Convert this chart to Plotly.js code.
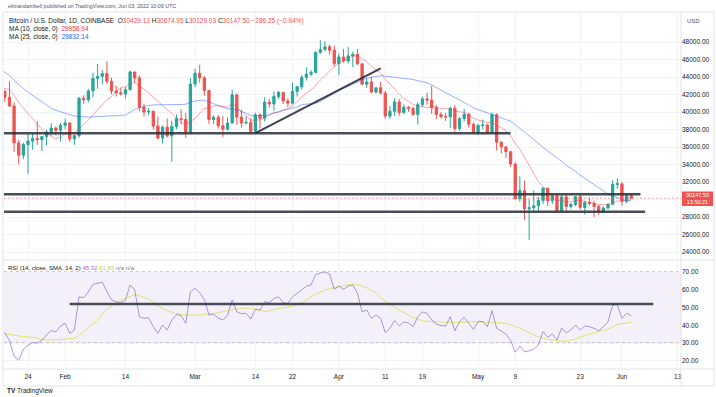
<!DOCTYPE html>
<html><head><meta charset="utf-8">
<script src="https://cdn.plot.ly/plotly-3.0.1.min.js"></script>
<style>html,body{margin:0;padding:0;background:#fff;overflow:hidden}#chart{width:716px;height:397px}</style>
</head><body><div id="chart"></div>
<script>
// ---------------- data ----------------
const dates = [
"2022-01-18","2022-01-19","2022-01-20","2022-01-21","2022-01-22","2022-01-23","2022-01-24","2022-01-25","2022-01-26","2022-01-27","2022-01-28","2022-01-29","2022-01-30","2022-01-31",
"2022-02-01","2022-02-02","2022-02-03","2022-02-04","2022-02-05","2022-02-06","2022-02-07","2022-02-08","2022-02-09","2022-02-10","2022-02-11","2022-02-12","2022-02-13","2022-02-14","2022-02-15","2022-02-16","2022-02-17","2022-02-18","2022-02-19","2022-02-20","2022-02-21","2022-02-22","2022-02-23","2022-02-24","2022-02-25","2022-02-26","2022-02-27","2022-02-28",
"2022-03-01","2022-03-02","2022-03-03","2022-03-04","2022-03-05","2022-03-06","2022-03-07","2022-03-08","2022-03-09","2022-03-10","2022-03-11","2022-03-12","2022-03-13","2022-03-14","2022-03-15","2022-03-16","2022-03-17","2022-03-18","2022-03-19","2022-03-20","2022-03-21","2022-03-22","2022-03-23","2022-03-24","2022-03-25","2022-03-26","2022-03-27","2022-03-28","2022-03-29","2022-03-30","2022-03-31",
"2022-04-01","2022-04-02","2022-04-03","2022-04-04","2022-04-05","2022-04-06","2022-04-07","2022-04-08","2022-04-09","2022-04-10","2022-04-11","2022-04-12","2022-04-13","2022-04-14","2022-04-15","2022-04-16","2022-04-17","2022-04-18","2022-04-19","2022-04-20","2022-04-21","2022-04-22","2022-04-23","2022-04-24","2022-04-25","2022-04-26","2022-04-27","2022-04-28","2022-04-29","2022-04-30",
"2022-05-01","2022-05-02","2022-05-03","2022-05-04","2022-05-05","2022-05-06","2022-05-07","2022-05-08","2022-05-09","2022-05-10","2022-05-11","2022-05-12","2022-05-13","2022-05-14","2022-05-15","2022-05-16","2022-05-17","2022-05-18","2022-05-19","2022-05-20","2022-05-21","2022-05-22","2022-05-23","2022-05-24","2022-05-25","2022-05-26","2022-05-27","2022-05-28","2022-05-29","2022-05-30","2022-05-31",
"2022-06-01","2022-06-02","2022-06-03"];

const open = [42250,42375,41680,40690,36470,35060,36280,36680,36960,36830,37190,37720,38170,37920,
38480,38740,36940,37300,41570,41390,42410,43840,44070,44390,43520,42400,42200,42060,42550,44580,43900,40540,40000,40100,38390,37030,38270,37270,38350,39240,39140,37710,
43190,44420,43910,42460,39140,39400,38420,38040,38740,41960,39430,38730,38810,37790,39670,39290,41120,40920,41770,42240,41260,41010,42360,42890,43960,44330,44520,46820,47130,47450,47060,
45530,46290,45830,46410,46600,45510,43180,43440,42280,42770,42160,39530,40090,41150,39940,40550,40400,39720,40830,41500,41360,40480,39710,39470,39450,40430,38110,39240,39740,38600,
37630,38470,38520,37720,39690,36550,36010,35470,34060,30090,31010,28940,29050,29280,29880,31300,29860,30420,28720,30300,29200,29430,30320,29100,29650,29540,29200,28630,29030,29470,31720,
31790,29800,30429.13];
const high = [42600,42480,43500,41100,36840,36500,37550,37540,38920,37230,38000,38720,38360,38750,
39230,38840,37380,41730,41920,42640,44500,45490,44800,45820,43920,43000,42750,42860,44770,44580,44200,40970,40480,40140,39470,38450,39260,38990,39730,40310,39880,43890,
44950,45400,44110,42490,39610,39650,39530,39360,42570,42040,40230,39480,39300,39920,39870,41700,41460,42320,42400,42300,41550,43360,42900,44210,45090,44800,46940,48190,48100,47700,47590,
46710,47210,47440,46890,47190,45510,43900,43970,42800,43420,42420,40700,41560,41500,40870,40700,40600,41130,41760,42200,42980,40800,39980,39900,40600,40780,39440,40350,39900,38780,
38640,39120,38630,39960,39850,36650,36120,35480,34240,32650,32160,30030,31040,30300,31400,31310,30750,30660,30500,30700,29620,30420,30660,29830,30200,29850,29380,29220,29560,32200,32400,
31960,30680,30674.95];
const low = [41250,41150,40550,35440,34010,34620,32950,35700,36240,35510,36180,37320,37360,36640,
38010,36600,36250,37050,40930,41100,41680,42660,43150,43200,42010,41780,41880,41580,42440,43330,40080,39470,39640,38000,36820,36390,37090,34320,38050,38620,37050,37480,
42850,43340,41860,38600,38590,38100,37150,37870,38660,38550,38220,38660,37590,37580,38120,38920,40500,40140,41520,40920,40540,40890,41750,42580,43600,44100,44440,46650,46970,46550,45210,
44220,45650,45530,45120,45360,43120,42740,42130,42130,42000,39220,39250,39560,39570,39770,40020,39550,38550,40580,40850,39780,39180,39280,39000,38200,37720,37880,38890,38200,37600,
37400,38050,37500,37680,35600,35260,34770,33730,30050,29730,27700,25400,28720,28650,29500,29230,29480,28650,28700,28740,28950,29240,28860,28290,29330,28030,28240,28450,28880,29330,31220,
29300,29580,30129.03];
const close = [42375,41680,40690,36470,35060,36280,36680,36960,36830,37190,37720,38170,37920,38480,
38740,36940,37300,41570,41390,42410,43840,44070,44390,43520,42400,42200,42060,42550,44580,43900,40540,40000,40100,38390,37030,38270,37270,38350,39240,39140,37710,43190,
44420,43910,42460,39140,39400,38420,38040,38740,41960,39430,38730,38810,37790,39670,39290,41120,40920,41770,42240,41260,41010,42360,42890,43960,44330,44520,46820,47130,47450,47060,45530,
46290,45830,46410,46600,45510,43180,43440,42280,42770,42160,39530,40090,41150,39940,40550,40400,39720,40830,41500,41360,40480,39710,39470,39450,40430,38110,39240,39740,38600,37630,
38470,38520,37720,39690,36550,36010,35470,34060,30090,31010,28940,29050,29280,29880,31300,29860,30420,28720,30300,29200,29430,30320,29100,29650,29540,29200,28630,29030,29470,31720,31790,
29800,30433.75,30147.50];
const ma10 = [42690,42670,42560,41930,41050,40420,39780,39160,38530,38020,37560,37210,36930,37130,
37500,37560,37630,38090,38540,39060,39680,40270,40910,41420,41780,42310,42790,42880,43200,43350,43020,42610,42190,41670,41140,40740,40260,39840,39310,38830,38550,38870,
39300,39850,40400,40480,40700,40700,40580,40540,40970,40590,40020,39510,39050,39100,39090,39360,39650,39950,39980,40160,40390,40740,41250,41680,42190,42530,43120,43650,44170,44750,45210,
45600,45890,46140,46360,46460,46100,45730,45210,44780,44450,43770,43200,42670,42010,41510,41230,40860,40710,40590,40510,40600,40560,40400,40350,40340,40110,40060,39950,39660,39290,
39090,38970,38790,38820,38430,38220,37840,37270,36420,35760,34810,33860,33020,32030,31510,30890,30390,29860,29880,29700,29740,29870,29850,29830,29650,29590,29410,29440,29360,29610,29850,
29790,29930,29958.94];
const ma25 = [44940,44570,44180,43610,43110,42700,42280,41910,41480,41070,40720,40420,40200,40020,
39900,39710,39530,39520,39460,39400,39450,39490,39540,39560,39560,39560,39570,39650,39970,40320,40490,40630,40750,40810,40810,40830,40790,40810,40840,40860,40890,41120,
41240,41340,41340,41150,40970,40730,40510,40360,40350,40250,40090,39860,39620,39580,39560,39600,39700,39890,40050,40210,40310,40440,40590,40840,40880,40890,41000,41190,41520,41830,42110,
42440,42730,42900,43190,43460,43640,43860,43970,44110,44150,44090,44030,43980,43930,43910,43830,43710,43580,43470,43340,43090,42790,42470,42170,41960,41640,41370,41110,40790,40470,
40280,40090,39900,39780,39560,39410,39230,38950,38550,38170,37710,37290,36820,36360,35960,35530,35160,34730,34360,33910,33570,33210,32780,32430,32100,31730,31340,30990,30580,30390,30220,
29990,29850,29832.14];
const rsi = [38.0,35.5,31.5,22.5,20.3,26.5,28.8,30.2,30.0,31.5,34.5,37.0,36.3,39.5,
41.2,35.5,37.3,56.0,55.5,58.8,63.0,63.8,64.3,59.0,54.2,53.3,52.8,54.0,62.7,59.9,44.8,43.9,44.2,39.2,35.5,40.1,37.3,43.0,46.0,45.5,41.1,58.9,
60.8,58.3,54.5,45.8,46.3,44.0,43.0,45.5,54.2,47.6,46.5,46.7,43.5,49.0,48.5,53.3,52.8,55.0,56.1,52.7,52.2,56.0,58.0,60.5,62.0,62.7,68.5,69.5,70.0,68.8,60.3,
62.1,60.3,62.1,62.7,58.0,47.6,48.6,43.9,45.8,43.9,35.8,38.3,42.6,39.6,41.8,41.3,39.2,44.8,47.5,46.7,43.0,40.7,39.8,39.6,44.8,36.9,42.0,44.5,41.1,37.7,
42.0,42.1,39.2,48.2,38.3,36.9,35.1,31.5,24.8,28.3,25.0,25.6,26.5,29.0,36.4,33.2,35.1,31.7,38.3,35.8,37.3,40.1,37.3,39.6,39.2,38.3,36.9,39.2,42.0,51.4,51.6,
43.9,46.7,45.32];
const rsiMaDates = ["2022-01-19","2022-01-21","2022-01-23","2022-01-25","2022-01-27","2022-01-29","2022-02-01","2022-02-03","2022-02-04","2022-02-06","2022-02-08","2022-02-10","2022-02-13","2022-02-15","2022-02-16","2022-02-19","2022-02-21","2022-02-24","2022-02-27","2022-03-02","2022-03-05","2022-03-08","2022-03-11","2022-03-14","2022-03-16","2022-03-19","2022-03-22","2022-03-24","2022-03-26","2022-03-29","2022-04-01","2022-04-04","2022-04-06","2022-04-09","2022-04-11","2022-04-14","2022-04-17","2022-04-19","2022-04-23","2022-04-27","2022-05-01","2022-05-04","2022-05-07","2022-05-10","2022-05-13","2022-05-16","2022-05-19","2022-05-21","2022-05-24","2022-05-27","2022-05-29","2022-05-31","2022-06-03"];
const rsiMa = [35.3,34.4,33.6,33.2,32.1,31.7,32.2,32.8,34.3,38.6,43.0,49.0,54.0,56.1,57.3,54.5,51.0,47.1,45.8,45.8,46.7,48.2,49.6,49.2,47.8,49.4,50.8,52.5,56.0,59.9,61.7,63.2,62.2,58.2,53.5,48.5,44.5,42.6,41.8,41.6,42.0,41.4,41.1,38.3,34.5,32.1,31.1,31.6,34.2,36.6,37.8,40.3,41.69];

// price-axis labels shown (30000 is hidden behind the last-price tag, as in the reference)
const priceTicks = [24000,26000,28000,32000,34000,36000,38000,40000,42000,44000,46000,48000];
const hiddenGridPrice = 30000;
const rsiTicks = [20,30,40,50,60,70];
const dateTickVals = ["2022-01-24","2022-02-01","2022-02-14","2022-03-01","2022-03-14","2022-03-22","2022-04-01","2022-04-11","2022-04-19","2022-05-01","2022-05-09","2022-05-23","2022-06-01","2022-06-13"];
const dateTickText = ["24","Feb","14","Mar","14","22","Apr","11","19","May","9","23","Jun","13"];
// hand-drawn support / trend lines (price levels)
const supportLevels = [37580, 30600, 28610];
const supportEnds = ["2022-05-08","2022-06-05","2022-06-06"];
const trendStart = ["2022-03-14", 37580];
const trendEnd = ["2022-04-10", 44990];
const rsiLevel = 52; const rsiLevelSpan = ["2022-02-02","2022-06-07 18:00"];
const lastPrice = 30147.50;

// ---------------- geometry ----------------
const L = 4, R = 681, T = 12, B = 369;
const px = v => (v - L) / (R - L);
const py = v => (B - v) / (B - T);
const xStart = "2022-01-18 19:52", xEnd = "2022-06-13 17:30";
const FONT = "Liberation Sans, Arial, sans-serif";
const TXT = "#131722";
const GRID = "#f0f3fa";
const BORDER = "#e0e3eb";
const UP = "#26a69a", DOWN = "#ef5350";

const traces = [
  {type:"candlestick", x:dates, open:open, high:high, low:low, close:close, xaxis:"x", yaxis:"y",
   increasing:{line:{color:UP,width:1}, fillcolor:UP}, decreasing:{line:{color:DOWN,width:1}, fillcolor:DOWN},
   whiskerwidth:0, hoverinfo:"skip", showlegend:false},
  {type:"scatter", mode:"lines", x:dates, y:ma10, xaxis:"x", yaxis:"y", line:{color:"rgba(242,54,69,0.45)", width:1}, hoverinfo:"skip", showlegend:false},
  {type:"scatter", mode:"lines", x:dates, y:ma25, xaxis:"x", yaxis:"y", line:{color:"rgba(41,98,255,0.5)", width:1}, hoverinfo:"skip", showlegend:false},
  {type:"scatter", mode:"lines", x:rsiMaDates, y:rsiMa, xaxis:"x", yaxis:"y2", line:{color:"rgba(215,222,70,0.75)", width:1, shape:"spline", smoothing:0.6}, hoverinfo:"skip", showlegend:false},
  {type:"scatter", mode:"lines", x:dates, y:rsi, xaxis:"x", yaxis:"y2", line:{color:"rgba(126,87,194,0.6)", width:1}, hoverinfo:"skip", showlegend:false}
];

const shapes = [];
shapes.push({type:"line", xref:"paper", yref:"y", x0:0, x1:1, y0:hiddenGridPrice, y1:hiddenGridPrice, line:{color:GRID, width:1}, layer:"below"});
shapes.push({type:"rect", xref:"paper", yref:"y2", x0:0, x1:1, y0:30, y1:70, fillcolor:"rgba(126,87,194,0.09)", line:{width:0}, layer:"below"});
[[70,"#9598a1"],[50,"#c3c5cc"],[30,"#9598a1"]].forEach(([v,c]) => shapes.push({type:"line", xref:"paper", yref:"y2", x0:0, x1:1, y0:v, y1:v, line:{color:c, width:1, dash:"3px,3px"}, layer:"below"}));
shapes.push({type:"line", xref:"paper", yref:"y", x0:0, x1:1, y0:lastPrice, y1:lastPrice, line:{color:"rgba(239,83,80,0.55)", width:1, dash:"2px,2px"}});
supportLevels.forEach((v,i) => shapes.push({type:"line", xref:"x", yref:"y", x0:xStart, x1:supportEnds[i], y0:v, y1:v, line:{color:"rgba(42,46,57,0.85)", width:2.5}}));
shapes.push({type:"line", xref:"x", yref:"y", x0:trendStart[0], y0:trendStart[1], x1:trendEnd[0], y1:trendEnd[1], line:{color:"rgba(42,46,57,0.9)", width:2}});
shapes.push({type:"line", xref:"x", yref:"y2", x0:rsiLevelSpan[0], x1:rsiLevelSpan[1], y0:rsiLevel, y1:rsiLevel, line:{color:"rgba(42,46,57,0.85)", width:2.5}});
shapes.push({type:"rect", xref:"paper", yref:"paper", x0:px(3), x1:px(714), y0:py(386), y1:py(T), line:{color:BORDER, width:1}, fillcolor:"rgba(0,0,0,0)"});
shapes.push({type:"line", xref:"paper", yref:"paper", x0:px(R), x1:px(R), y0:py(386), y1:py(T), line:{color:BORDER, width:1}});
shapes.push({type:"line", xref:"paper", yref:"paper", x0:px(3), x1:px(714), y0:py(260), y1:py(260), line:{color:BORDER, width:1}});
shapes.push({type:"line", xref:"paper", yref:"paper", x0:px(3), x1:px(714), y0:py(B), y1:py(B), line:{color:BORDER, width:1}});
shapes.push({type:"rect", xref:"paper", yref:"paper", x0:px(R+1), x1:px(713), y0:py(206), y1:py(191.5), fillcolor:DOWN, line:{width:0}});

const ann = (x,y,text,opts={}) => Object.assign({xref:"paper", yref:"paper", x:px(x), y:py(y), text:text, showarrow:false, xanchor:"left", yanchor:"middle", font:{family:FONT, size:6.5, color:TXT}}, opts);
const annotations = [
  ann(6, 5.5, "elimandambell published on TradingView.com, Jun 03, 2022 10:09 UTC", {font:{family:FONT, size:5.3, color:"#50535e"}}),
  ann(7, 20.5, "Bitcoin / U.S. Dollar, 1D, COINBASE &nbsp;O<span style='color:#ef5350'>30429.13</span> H<span style='color:#ef5350'>30674.95</span> L<span style='color:#ef5350'>30129.03</span> C<span style='color:#ef5350'>30147.50 −286.25 (−0.94%)</span>"),
  ann(7, 29, "MA (10, close, 0) &nbsp;<span style='color:#f23645'>29958.94</span>"),
  ann(7, 37, "MA (25, close, 0) &nbsp;<span style='color:#2962ff'>29832.14</span>"),
  ann(6, 267.5, "RSI (14, close, SMA, 14, 2) <span style='color:#9c6ee0'>45.32</span> <span style='color:#c2cc2a'>41.69</span> <span style='color:#787b86'>n/a n/a</span>", {font:{family:FONT, size:6, color:TXT}}),
  ann(685, 21, "USD", {font:{family:FONT, size:6, color:"#50535e"}}),
  ann(697, 198.8, "30147.50<br>13:50:21", {xanchor:"center", font:{family:FONT, size:5.5, color:"#ffffff"}}),
  ann(5, 391, "<b>TV</b> TradingView", {font:{family:FONT, size:6.5, color:TXT}})
];

const axisFont = {family:FONT, size:6.5, color:TXT};
const layout = {
  width:716, height:397, margin:{l:L, r:716-R, t:T, b:397-B, pad:0},
  paper_bgcolor:"#ffffff", plot_bgcolor:"#ffffff", showlegend:false, dragmode:false,
  xaxis:{type:"date", range:[xStart, xEnd], domain:[0,1], anchor:"y2", tickmode:"array", tickvals:dateTickVals, ticktext:dateTickText,
    showgrid:true, gridcolor:GRID, gridwidth:1, zeroline:false, showline:false, ticks:"", tickfont:axisFont, rangeslider:{visible:false}, fixedrange:true, ticklabelstandoff:2},
  yaxis:{domain:[py(259),1], range:[24000-(259-252)/8.75*1000, 48000+(42-T)/8.75*1000], side:"right", anchor:"x", tickmode:"array", tickvals:priceTicks, tickformat:".2f",
    showgrid:true, gridcolor:GRID, zeroline:false, showline:false, ticks:"", tickfont:axisFont, fixedrange:true},
  yaxis2:{domain:[0, py(261)], range:[70-(B-272)/1.775, 70+(272-261)/1.775], side:"right", anchor:"x", tickmode:"array", tickvals:rsiTicks, tickformat:".2f",
    showgrid:true, gridcolor:GRID, zeroline:false, showline:false, ticks:"", tickfont:axisFont, fixedrange:true},
  shapes:shapes, annotations:annotations
};
Plotly.newPlot("chart", traces, layout, {staticPlot:true, displayModeBar:false});
</script></body></html>
